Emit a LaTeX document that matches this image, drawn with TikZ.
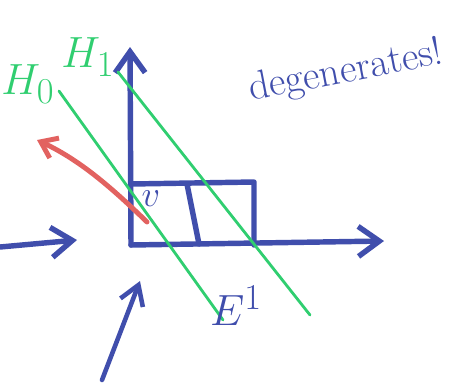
\documentclass[tikz,border=0pt]{standalone}
\usepackage{amsmath,amssymb}
\usepackage{tikz}
\usetikzlibrary{arrows.meta}
\definecolor{penblue}{RGB}{64,78,172}
\definecolor{pengreen}{RGB}{48,206,112}
\definecolor{penred}{RGB}{226,98,96}

\begin{document}
\begin{tikzpicture}[x=0.02cm,y=-0.02cm,line cap=round,line join=round,
    >={Straight Barb[length=4.2mm,width=6mm]},
    pen/.style={penblue,line width=3.1pt},
    hyper/.style={pengreen,line width=1.6pt},
    redpen/.style={penred,line width=2.8pt},
    hand/.style={inner sep=0pt}]
    \useasboundingbox (0,0) rectangle (449,383);

    % Origin and axes
    \coordinate (O) at (131,245);
    \coordinate (ytip) at (130,47);
    \coordinate (xtip) at (384,241);
    \draw[pen,->] (O) -- (ytip);
    \draw[pen,->] (O) -- (xtip);

    % Box on the axes
    \coordinate (boxtl) at (131,184);
    \coordinate (boxtr) at (254,182);
    \coordinate (boxbr) at (254,245);
    \draw[pen] (boxtl) -- (boxtr) -- (boxbr);
    \draw[pen] (187,184) -- (199,244); % cut
    \node[hand,penblue,font=\fontsize{22}{24}\selectfont] (vlbl) at (151,199) {$v$};

    % Hyperplanes H0 and H1
    \coordinate (h0a) at (59,91);
    \coordinate (h0b) at (223,320);
    \coordinate (h1a) at (118,72);
    \coordinate (h1b) at (310,315);
    \draw[hyper] (h0a) -- (h0b);
    \draw[hyper] (h1a) -- (h1b);
    \node[hand,pengreen,font=\fontsize{28}{30}\selectfont] (H0lbl) at (28,84) {$H_0$};
    \node[hand,pengreen,font=\fontsize{28}{30}\selectfont] (H1lbl) at (88,57) {$H_1$};

    % Red direction
    \coordinate (rs) at (147,222);
    \coordinate (rt) at (37,140);
    \draw[redpen,-{Straight Barb[length=3mm,width=4.4mm]}] (rs) .. controls (112,188) and (80,160) .. (rt);

    % Incoming arrows
    \coordinate (ls) at (0,247);
    \coordinate (lt) at (77,240);
    \draw[pen,->] (ls) -- (lt);
    \coordinate (bs) at (102,380);
    \coordinate (bt) at (140,281);
    \draw[pen,line width=2.6pt,-{Straight Barb[length=3.8mm,width=4.8mm]}] (bs) -- (bt);

    % Labels
    \node[hand,penblue,font=\fontsize{32}{34}\selectfont] (Elbl) at (236,306) {$E^1$};
    \node[hand,penblue,font=\fontsize{23}{25}\selectfont,rotate=11] (deg) at (346,72) {degenerates!};
\end{tikzpicture}
\end{document}
